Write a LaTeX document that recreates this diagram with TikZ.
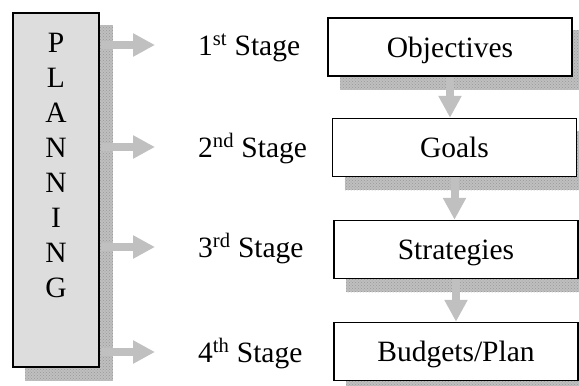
\documentclass[tikz,border=0pt]{standalone}
\usepackage{fontspec}
\setmainfont{Liberation Serif}
\usetikzlibrary{arrows.meta,backgrounds,patterns}
\definecolor{arrowgray}{HTML}{C0C0C0}
\definecolor{planfill}{HTML}{DDDDDD}

\begin{document}
\begin{tikzpicture}[x=1pt,y=-1pt,
		txt/.style={font=\fontsize{29.5}{35}\selectfont},
		stagebox/.style={draw,line width=1.5pt,fill=white,txt,minimum width=244pt,minimum height=58pt,inner sep=0pt,text height=20pt,text depth=0pt},
		stagelabel/.style={txt,anchor=west,inner sep=0pt,text height=20pt,text depth=0pt},
		shadowfill/.style={preaction={fill=gray!50},pattern=crosshatch dots,pattern color=gray!80},
		grayarrow/.style={draw=arrowgray,line width=8pt,-{Triangle[width=22pt,length=22pt]}}]
		\useasboundingbox (0,0) rectangle (579,386);
		
		\node[draw,line width=1.5pt,fill=planfill,minimum width=86pt,minimum height=354pt,inner sep=0pt](plan) at (56,190) {};
		\foreach \l [count=\i] in {P,L,A,N,N,I,N,G}
			\node[txt,anchor=base,inner sep=0pt](l\i) at (56,{52+35*(\i-1)}) {\l};
		
		\node[stagelabel](st1) at (198,45) {1\textsuperscript{st} Stage};
		\node[stagelabel](st2) at (198,147) {2\textsuperscript{nd} Stage};
		\node[stagelabel](st3) at (198,247) {3\textsuperscript{rd} Stage};
		\node[stagelabel](st4) at (198,352) {4\textsuperscript{th} Stage};
		
		\node[stagebox](obj) at (450,47) {Objectives};
		\node[stagebox](goal) at (454.5,147.5) {Goals};
		\node[stagebox](strat) at (456,249.5) {Strategies};
		\node[stagebox](budget) at (456,351.5) {Budgets/Plan};
		
		\begin{scope}[on background layer]
			\foreach \n in {plan,obj,goal,strat,budget}
				\fill[shadowfill]([shift={(13,13)}]\n.north west) rectangle ([shift={(13,13)}]\n.south east);
		\end{scope}
		
		\foreach \s in {st1,st2,st3,st4}
			\draw[grayarrow,shorten <=1pt,shorten >=43pt](plan.east |- \s) -- (\s.west);
		
		\draw[grayarrow](obj.south) -- (obj.south |- goal.north);
		\draw[grayarrow](goal.south) -- (goal.south |- strat.north);
		\draw[grayarrow](strat.south) -- (strat.south |- budget.north);
	\end{tikzpicture}
\end{document}
